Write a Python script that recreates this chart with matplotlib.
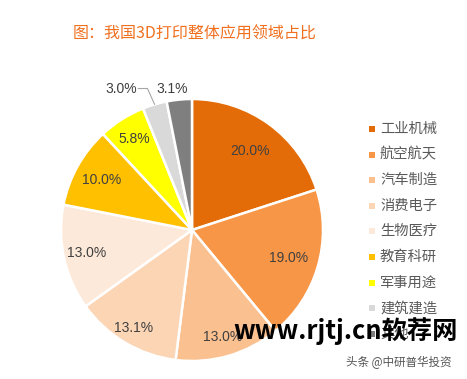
import matplotlib
matplotlib.use("Agg")
import numpy as np
import matplotlib.pyplot as plt
from matplotlib.patches import Rectangle

plt.rcParams['font.family'] = ['Noto Sans CJK SC', 'DejaVu Sans']

categories = ['工业机械', '航空航天', '汽车制造', '消费电子', '生物医疗',
              '教育科研', '军事用途', '建筑建造', '其他']
shares = [20.0, 19.0, 13.0, 13.1, 13.0, 10.0, 5.8, 3.0, 3.1]
colors = ['#E36C09', '#F79646', '#FAC090', '#FCD5B5', '#FDE9D9',
          '#FFC000', '#FFFF00', '#D9D9D9', '#7F7F7F']
title = '图：我国3D打印整体应用领域占比'

# radial placement of the percentage labels (fraction of radius)
label_r = [0.75, 0.77, 0.85, 0.87, 0.82, 0.79, 0.82]

fig = plt.figure(figsize=(4.67, 3.79), dpi=100)
fig.patch.set_facecolor('white')

# pie: center ~ (192, 230) px, radius ~131 px
ax = fig.add_axes([(192 - 131) / 467, 1 - (230 + 131) / 379, 262 / 467, 262 / 379])
wedges, texts, autotexts = ax.pie(
    shares, colors=colors, startangle=90, counterclock=False,
    autopct='%.1f%%', pctdistance=0.76,
    wedgeprops=dict(edgecolor='white', linewidth=1.8),
    textprops=dict(color='#404040', fontsize=10, family='Liberation Sans'))
ax.set_xlim(-1, 1)
ax.set_ylim(-1, 1)
ax.set_aspect('equal')
ax.axis('off')

for w, t, r in zip(wedges, autotexts, label_r):
    a = np.deg2rad((w.theta1 + w.theta2) / 2)
    t.set_position((r * np.cos(a), r * np.sin(a)))

# the two small slices get outside labels
for i, (tx, ty) in zip([7, 8], [(-0.54, 1.08), (-0.15, 1.08)]):
    autotexts[i].set_position((tx, ty))
    autotexts[i].set_ha('center')
    autotexts[i].set_va('center')
ax.plot([-0.41, -0.34, -0.286], [1.08, 1.08, 0.96],
        color='#A6A6A6', lw=0.8, clip_on=False)

fig.text(73 / 467, 1 - 34 / 379, title, color='#F07020', fontsize=11.5,
         va='center', ha='left')

# legend
y0 = 129
for k, (name, c) in enumerate(zip(categories, colors)):
    y = y0 + k * 25.6
    fig.patches.append(Rectangle((369 / 467, 1 - (y + 3) / 379), 6 / 467, 6 / 379,
                                 transform=fig.transFigure, facecolor=c,
                                 edgecolor='none'))
    fig.text(380 / 467, 1 - y / 379, name, color='#595959', fontsize=10.3,
             va='center', ha='left')

# watermarks
fig.text(233 / 467, 1 - 331 / 379, 'www.rjtj.cn软荐网', color='black',
         fontsize=18.2, fontweight='bold', va='center', ha='left')
fig.text(346 / 467, 1 - 362 / 379, '头条 @中研普华投资', color='#555555',
         fontsize=8.3, va='center', ha='left')

fig.savefig('out.png', dpi=100)
